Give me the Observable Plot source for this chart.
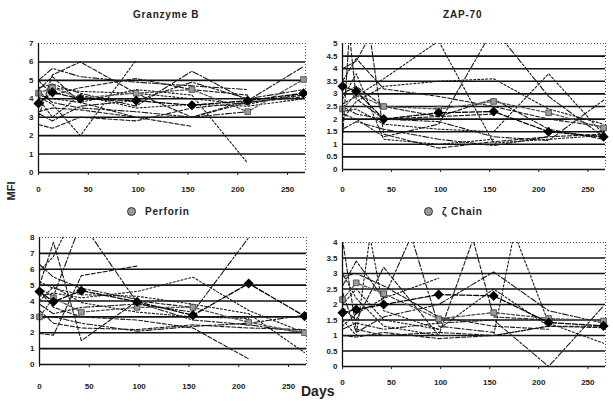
<!DOCTYPE html>
<html><head><meta charset="utf-8">
<script src="https://cdn.jsdelivr.net/npm/d3@7"></script>
<script src="https://cdn.jsdelivr.net/npm/@observablehq/plot@0.6"></script>
<style>
body{margin:0;background:#fff;}
#wrap{position:relative;width:613px;height:401px;overflow:hidden;font-family:Arial,"Liberation Sans",sans-serif;background:#fff;}
#wrap svg{position:absolute;background:transparent;}
.ttl{position:absolute;font-weight:bold;font-size:10px;color:#222;white-space:nowrap;letter-spacing:0.8px;}
.dot{display:inline-block;width:7px;height:7px;border-radius:50%;background:#9a9a9a;border:1px solid #333;margin-right:9px;vertical-align:-1px;}
.axlab{position:absolute;font-weight:bold;color:#222;white-space:nowrap;}
</style></head><body><div id="wrap"></div>
<script>
// Sampling days (weeks 0, 2, 6, 14, 22, 30, 38)
const days = [0, 14, 42, 98, 154, 210, 266];
const xTicks = [0, 50, 100, 150, 200, 250];

// ---- Granzyme B ----
const granzymeDiamond = [3.75, 4.35, 4.0, 3.9, 3.65, 3.9, 4.3];
const granzymeSquare  = [4.3, 4.6, 4.05, 4.3, 4.5, 3.3, 5.05];
const granzymePatients = [
  [[0,3.0],[14,5.3],[42,6.0],[98,4.3],[154,3.0],[210,3.8],[266,4.1]],
  [[0,4.1],[14,3.7],[42,2.0],[98,6.1]],
  [[0,5.0],[14,5.65],[42,5.2],[98,4.9],[154,4.7],[210,4.5]],
  [[0,3.3],[14,3.5],[42,3.4],[98,3.0],[154,2.5]],
  [[0,4.2],[14,4.0],[42,3.8],[98,4.5],[154,4.2],[210,0.5]],
  [[0,4.6],[14,4.8],[42,4.3],[98,3.6],[154,5.5],[210,3.9],[266,5.75]],
  [[0,2.6],[14,2.4],[42,3.0],[98,2.8],[154,3.5],[210,3.8],[266,4.2]],
  [[0,3.6],[14,4.6],[42,4.4],[98,4.3],[154,4.0],[210,3.7],[266,4.3]],
  [[0,4.4],[14,3.8],[42,3.5],[98,3.3],[154,3.0],[210,3.3]],
  [[0,5.0],[14,4.2],[42,4.6],[98,5.1],[154,4.5],[210,4.2]],
  [[0,4.0],[14,3.0],[42,4.2],[98,3.5],[154,3.7],[210,3.6],[266,4.0]],
  [[0,3.2],[14,2.8],[42,3.6],[98,3.9],[154,4.9],[210,4.0],[266,4.5]],
  [[0,4.5],[14,5.2],[42,3.8],[98,3.0],[154,3.0],[210,3.9]]
];

// ---- ZAP-70 ----
const zapDiamond = [3.3, 3.1, 2.0, 2.25, 2.3, 1.5, 1.3];
const zapSquare  = [2.4, 3.0, 2.5, 2.4, 2.7, 2.25, 1.65];
const zapPatients = [
  [[0,1.2],[7,5.4],[14,2.8],[42,2.0],[98,2.1],[154,2.2]],
  [[0,2.6],[14,2.9],[42,3.6],[98,5.1],[154,1.05],[210,1.2],[266,1.35]],
  [[0,2.2],[14,2.0],[42,1.3],[98,1.8],[154,5.6],[210,2.9],[266,1.3]],
  [[0,4.0],[14,4.3],[28,5.3],[42,1.4],[98,0.85],[154,1.1],[210,1.3],[266,1.4]],
  [[0,2.3],[14,2.4],[42,1.8],[98,1.6],[154,1.5],[210,3.8],[266,1.4]],
  [[0,2.5],[14,2.2],[42,2.0],[98,1.9],[154,1.3],[210,1.15],[266,2.75]],
  [[0,3.5],[14,4.4],[42,3.2],[98,2.9],[154,2.5],[210,2.0],[266,1.7]],
  [[0,2.0],[14,2.7],[42,3.3],[98,3.5],[154,3.6],[210,2.4],[266,1.8]],
  [[0,1.6],[14,1.9],[42,1.6],[98,1.2],[154,0.95],[210,1.3]],
  [[0,3.0],[14,3.3],[42,2.5],[98,2.1],[154,2.8],[210,1.6],[266,1.2]],
  [[0,2.8],[14,3.8],[42,1.2],[98,1.0],[154,1.2]]
];

// ---- Perforin ----
const perforinDiamond = [4.6, 3.95, 4.65, 3.95, 3.1, 5.1, 3.05];
const perforinSquare  = [3.0, 4.2, 3.3, 3.6, 3.6, 2.65, 2.0];
const perforinPatients = [
  [[0,5.0],[14,7.7],[42,1.5],[98,4.0],[154,3.6]],
  [[0,5.9],[14,6.8],[28,8.6]],
  [[0,4.8],[14,4.3],[42,9.0],[98,3.9],[154,2.8],[210,2.5],[266,2.0]],
  [[0,1.95],[14,1.85],[42,5.6],[98,6.2]],
  [[0,4.3],[14,4.5],[42,4.2],[98,4.6],[154,5.5],[210,3.4],[266,2.0]],
  [[0,3.8],[14,3.2],[42,3.6],[98,3.8],[154,3.3],[210,8.0]],
  [[0,4.6],[14,3.6],[42,3.0],[98,2.8],[154,2.3],[210,0.35]],
  [[0,5.2],[14,4.8],[42,4.4],[98,4.3],[154,3.8],[210,3.2],[266,0.75]],
  [[0,2.9],[14,3.0],[42,2.6],[98,2.1],[154,2.4],[210,2.6],[266,3.1]],
  [[0,3.4],[14,2.6],[42,2.3],[98,2.2],[154,2.5],[210,2.3],[266,2.2]],
  [[0,4.0],[14,4.9],[42,3.9],[98,3.3],[154,3.0],[210,2.9]],
  [[0,6.3],[14,5.5],[42,4.8],[98,4.1]]
];

// ---- zeta Chain ----
const zetaDiamond = [1.73, 1.84, 2.0, 2.32, 2.28, 1.42, 1.31];
const zetaSquare  = [2.16, 2.7, 2.35, 1.54, 1.74, 1.55, 1.47];
const zetaPatients = [
  [[0,4.1],[14,1.2],[42,1.0],[98,1.1],[154,1.0],[210,1.3],[266,1.3]],
  [[0,1.5],[14,1.0],[28,4.2],[42,1.8],[98,1.2]],
  [[0,2.6],[14,3.4],[42,2.2],[70,4.2],[98,1.3],[154,1.1]],
  [[0,1.9],[14,1.5],[42,3.2],[98,1.0],[133,4.1],[154,1.6],[210,1.5]],
  [[0,3.0],[14,2.2],[42,1.3],[98,1.0],[154,1.0],[175,4.3],[210,1.4],[266,0.75]],
  [[0,1.2],[14,1.4],[42,1.2],[98,1.4],[154,1.5],[210,0.0],[266,1.95]],
  [[0,1.0],[14,0.95],[42,1.1],[98,0.9],[154,1.0],[210,1.3],[266,1.25]],
  [[0,1.3],[14,1.7],[42,2.2],[98,2.85]],
  [[0,2.4],[14,1.1],[42,1.6],[98,2.0],[154,3.05],[210,1.8],[266,1.4]],
  [[0,2.9],[14,3.0],[42,2.6],[98,1.6],[154,1.3],[210,1.2]],
  [[0,2.0],[14,2.5],[42,1.5],[98,1.2],[154,2.5],[210,1.3]]
];

const panels = [
  {patients: granzymePatients, diamond: granzymeDiamond, square: granzymeSquare, yMax: 7, yStep: 1,
   left: 0, top: 0, width: 307, height: 200, mL: 38, mR: 2, mT: 43, mB: 28, xGap: 11},
  {patients: zapPatients, diamond: zapDiamond, square: zapSquare, yMax: 5, yStep: 0.5,
   left: 306, top: 0, width: 307, height: 200, mL: 36, mR: 8, mT: 43, mB: 31, xGap: 14},
  {patients: perforinPatients, diamond: perforinDiamond, square: perforinSquare, yMax: 8, yStep: 1,
   left: 0, top: 200, width: 307, height: 201, mL: 39, mR: 1, mT: 37, mB: 37, xGap: 16},
  {patients: zetaPatients, diamond: zetaDiamond, square: zetaSquare, yMax: 4, yStep: 0.5,
   left: 306, top: 200, width: 307, height: 201, mL: 36, mR: 8, mT: 42, mB: 35, xGap: 10}
];

const dashes = ["4,2", "2,2", "6,2,2,2"];
const wrap = document.getElementById("wrap");

for (const p of panels) {
  const rows = [];
  p.patients.forEach((s, i) => s.forEach(([d, v]) => rows.push({id: i, grp: i % 3, day: d, mfi: v})));
  const dia = days.map((d, i) => ({day: d, mfi: p.diamond[i]}));
  const sq = days.map((d, i) => ({day: d, mfi: p.square[i]}));
  const yTicks = d3.range(0, p.yMax + p.yStep / 2, p.yStep).map(v => +v.toFixed(2));
  const grid = yTicks.filter(t => t > 0 && t < p.yMax);
  const xMax = 268;
  const chart = Plot.plot({
    width: p.width, height: p.height,
    marginLeft: p.mL, marginRight: p.mR, marginTop: p.mT, marginBottom: p.mB,
    style: {background: "transparent", fontFamily: "Arial, 'Liberation Sans', sans-serif", fontSize: "8px", fontWeight: "bold", color: "#222"},
    x: {domain: [0, xMax]},
    y: {domain: [0, p.yMax]},
    marks: [
      Plot.ruleY(grid, {stroke: "#111", strokeWidth: 1.6}),
      Plot.ruleY([p.yMax], {stroke: "#555", strokeDasharray: "1,2"}),
      Plot.ruleX([xMax], {stroke: "#555", strokeDasharray: "1,2"}),
      ...dashes.map((dash, g) => Plot.line(rows.filter(r => r.grp === g),
        {x: "day", y: "mfi", z: "id", stroke: "#1a1a1a", strokeWidth: 1.1, strokeDasharray: dash, clip: true})),
      Plot.line(sq, {x: "day", y: "mfi", stroke: "#555", strokeWidth: 1.3, strokeDasharray: "3,2"}),
      Plot.line(dia, {x: "day", y: "mfi", stroke: "#000", strokeWidth: 1.3, strokeDasharray: "5,2"}),
      Plot.dot(sq, {x: "day", y: "mfi", symbol: "square", r: 3.2, fill: "#9a9a9a", stroke: "#444", strokeWidth: 0.8}),
      Plot.dot(dia, {x: "day", y: "mfi", symbol: "diamond2", r: 3.6, fill: "#000", stroke: "#000"}),
      Plot.ruleY([0], {stroke: "#111", strokeWidth: 1.3}),
      Plot.ruleX([0], {stroke: "#111", strokeWidth: 1.3}),
      Plot.axisY({ticks: yTicks, tickSize: 0, tickPadding: 5, label: null, tickFormat: d => String(d)}),
      Plot.axisX({ticks: xTicks, tickSize: 3, tickPadding: p.xGap, label: null, tickFormat: d => String(d)})
    ]
  });
  chart.style.left = p.left + "px";
  chart.style.top = p.top + "px";
  wrap.appendChild(chart);
}

function addText(html, cls, css) {
  const el = document.createElement("div");
  el.className = cls;
  el.innerHTML = html;
  Object.assign(el.style, css);
  wrap.appendChild(el);
}
addText("Granzyme B", "ttl", {left: "133px", top: "9px"});
addText("ZAP-70", "ttl", {left: "443px", top: "9px"});
addText('<span class="dot"></span>Perforin', "ttl", {left: "127px", top: "206px"});
addText('<span class="dot"></span>ζ Chain', "ttl", {left: "424px", top: "206px"});
addText("MFI", "axlab", {left: "2px", top: "185px", fontSize: "11px", transform: "rotate(-90deg)", transformOrigin: "center"});
addText("Days", "axlab", {left: "301px", top: "383px", fontSize: "14px"});
</script></body></html>
